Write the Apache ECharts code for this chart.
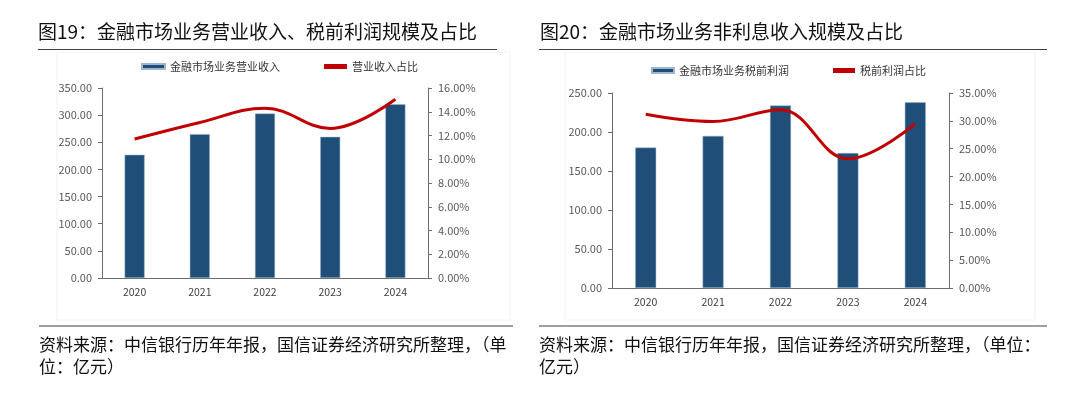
<!DOCTYPE html>
<html>
<head>
<meta charset="utf-8">
<script src="https://cdn.jsdelivr.net/npm/echarts@6/dist/echarts.min.js"></script>
<style>
  html, body { margin: 0; padding: 0; background: #fff; }
  #main { width: 1080px; height: 399px; }
</style>
</head>
<body>
<div id="main"></div>
<script>
var years = ['2020', '2021', '2022', '2023', '2024'];
// 图19
var revenue = [227, 265, 303, 260, 320];
var revenueShare = [11.7, 13.1, 14.3, 12.6, 15.05];
// 图20
var profit = [180, 195, 234, 173, 238];
var profitShare = [31.2, 29.9, 32.0, 23.2, 29.5];

var font = '"Noto Sans CJK SC", "Noto Sans", sans-serif';
var barColor = '#1F4E79';
var lineColor = '#C00000';
var axisColor = '#6b6b6b';
var labelColor = '#595959';

function fix2(v) { return v.toFixed(2); }
function pct2(v) { return v.toFixed(2) + '%'; }

function yAxis(grid, max, interval, fmt, pos) {
	return {
		type: 'value',
		gridIndex: grid,
		position: pos,
		min: 0,
		max: max,
		interval: interval,
		splitLine: { show: false },
		axisLine: { show: true, lineStyle: { color: axisColor, width: 1 } },
		axisTick: { show: true, length: 4, lineStyle: { color: axisColor } },
		axisLabel: { formatter: fmt, color: labelColor, fontSize: 11, fontFamily: font, margin: 10 }
	};
}

function xAxis(grid) {
	return {
		type: 'category',
		gridIndex: grid,
		data: years,
		axisLine: { lineStyle: { color: axisColor } },
		axisTick: { length: 4, lineStyle: { color: axisColor } },
		axisLabel: { color: '#404040', fontSize: 10.5, fontFamily: font, margin: 9 }
	};
}

function hLine(x1, x2, y) {
	return { type: 'line', shape: { x1: x1, y1: y, x2: x2, y2: y }, style: { stroke: '#404040', lineWidth: 1.2 } };
}
function txt(x, y, s, size) {
	return { type: 'text', x: x, y: y, style: { text: s, font: size + 'px ' + font, fill: '#111', lineHeight: 22, textVerticalAlign: 'top' } };
}

var option = {
	animation: false,
	backgroundColor: '#fff',
	legend: [{
		left: 136, top: 56,
		itemWidth: 23, itemHeight: 5, itemGap: 44,
		icon: 'rect',
		textStyle: { fontSize: 11, color: '#333', fontFamily: font },
		data: ['金融市场业务营业收入', '营业收入占比']
	}, {
		left: 646, top: 60,
		itemWidth: 22, itemHeight: 5, itemGap: 44,
		icon: 'rect',
		textStyle: { fontSize: 11, color: '#333', fontFamily: font },
		data: ['金融市场业务税前利润', '税前利润占比']
	}],
	grid: [
		{ left: 102, top: 88, width: 326, height: 190 },
		{ left: 612, top: 93, width: 337, height: 195 }
	],
	xAxis: [xAxis(0), xAxis(1)],
	yAxis: [
		yAxis(0, 350, 50, fix2, 'left'),
		yAxis(0, 16, 2, pct2, 'right'),
		yAxis(1, 250, 50, fix2, 'left'),
		yAxis(1, 35, 5, pct2, 'right')
	],
	series: [{
		name: '金融市场业务营业收入', type: 'bar', xAxisIndex: 0, yAxisIndex: 0,
		data: revenue, barWidth: 20,
		itemStyle: { color: barColor, borderColor: '#9fb6cc', borderWidth: 0.5 }
	}, {
		name: '营业收入占比', type: 'line', xAxisIndex: 0, yAxisIndex: 1,
		data: revenueShare, smooth: 0.4, showSymbol: false,
		lineStyle: { color: lineColor, width: 3 }, itemStyle: { color: lineColor }
	}, {
		name: '金融市场业务税前利润', type: 'bar', xAxisIndex: 1, yAxisIndex: 2,
		data: profit, barWidth: 21,
		itemStyle: { color: barColor, borderColor: '#9fb6cc', borderWidth: 0.5 }
	}, {
		name: '税前利润占比', type: 'line', xAxisIndex: 1, yAxisIndex: 3,
		data: profitShare, smooth: 0.4, showSymbol: false,
		lineStyle: { color: lineColor, width: 3 }, itemStyle: { color: lineColor }
	}],
	graphic: [
		{ type: 'rect', shape: { x: 57, y: 52, width: 453, height: 268 }, style: { fill: 'none', stroke: '#f2f2f2', lineWidth: 1 } },
		{ type: 'rect', shape: { x: 565, y: 52, width: 470, height: 268 }, style: { fill: 'none', stroke: '#f2f2f2', lineWidth: 1 } },
		txt(38, 21, '图19：金融市场业务营业收入、税前利润规模及占比', 19),
		txt(540, 21, '图20：金融市场业务非利息收入规模及占比', 19),
		hLine(38, 497, 49.5),
		hLine(539, 1047, 49.5),
		hLine(39, 513, 326),
		hLine(539, 1047, 326),
		txt(39, 334, '资料来源：中信银行历年年报，国信证券经济研究所整理，（单\n位：亿元）', 17),
		txt(539, 334, '资料来源：中信银行历年年报，国信证券经济研究所整理，（单位：\n亿元）', 17)
	]
};

var chart = echarts.init(document.getElementById('main'));
chart.setOption(option);
</script>
</body>
</html>
